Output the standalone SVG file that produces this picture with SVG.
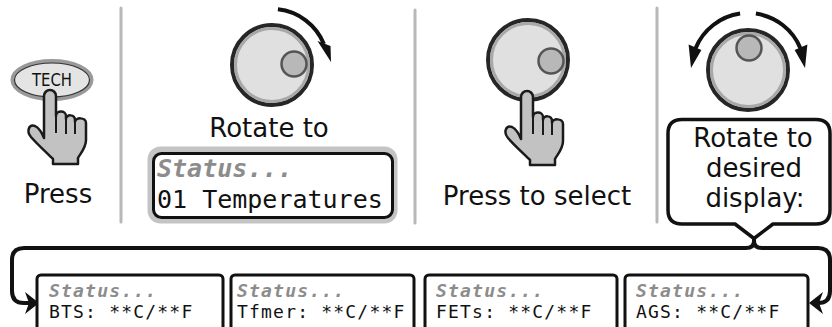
<svg xmlns="http://www.w3.org/2000/svg" xmlns:xlink="http://www.w3.org/1999/xlink" width="832" height="327" viewBox="0 0 832 327">
<style>
.lbl{font-family:"DejaVu Sans","Liberation Sans",sans-serif;font-size:26px;fill:#111;text-anchor:middle}
.mono{font-family:"DejaVu Sans Mono","Liberation Mono",monospace;fill:#111}
.sm{font-size:18px;letter-spacing:1.2px}
.st{font-weight:bold;font-style:italic;fill:#8c8c8c}
.sep{stroke:#b8b8b8;stroke-width:3;stroke-linecap:round;fill:none}
.knob{fill:#e0e0e0;stroke:#262626;stroke-width:4}
.ring{fill:none;stroke:#a8a8a8;stroke-width:3}
.dot{fill:#b8b8b8;stroke:#555;stroke-width:2.5}
.hand{fill:#c2c2c2;stroke:#1a1a1a;stroke-width:2.5;stroke-linejoin:round}
.hl{fill:none;stroke:#1a1a1a;stroke-width:2}
.arc{fill:none;stroke:#111;stroke-width:4}
.box{fill:#fff;stroke:#111;stroke-width:3}
.conn{fill:none;stroke:#111;stroke-width:4;stroke-linejoin:round}
</style>
<defs>
<g id="handShape">
<path class="hand" d="M44,138 L44,96 A6,6 0 0 1 56,96 L56,116 C56,110 66,110 66,116 L66,119 C66,114 75,114 75,120 L75,122 C75,117 86,117 86,123 L86,140 C86,148 80,154 78,158 L78,164 L53,164 L53,159 C47,153 38,145 31,137 C26,131 29,124 35,126 C39,128 42,133 44,138 Z"/>
<path class="hl" d="M56,116 V133 M66,119 V134 M75,122 V134"/>
</g>
</defs>

<g id="separators">
<line class="sep" x1="121" y1="8" x2="121" y2="222"/>
<line class="sep" x1="415" y1="10" x2="415" y2="223"/>
<line class="sep" x1="657" y1="8" x2="657" y2="222"/>
</g>

<g id="step1-press">
<ellipse cx="52" cy="80" rx="39.5" ry="19" fill="#e4e4e4" stroke="#9a9a9a" stroke-width="4"/>
<ellipse cx="52" cy="80" rx="37.5" ry="17" fill="none" stroke="#333" stroke-width="1.2"/>
<text x="52" y="86" font-family="DejaVu Sans,sans-serif" font-size="17" fill="#111" text-anchor="middle" textLength="40" lengthAdjust="spacingAndGlyphs">TECH</text>
<use xlink:href="#handShape"/>
<text class="lbl" x="58" y="203">Press</text>
</g>

<g id="step2-rotate">
<circle class="knob" cx="272" cy="65" r="40"/>
<circle class="ring" cx="272" cy="65" r="36.5"/>
<circle class="dot" cx="294" cy="64" r="12.5"/>
<path class="arc" d="M277.9,9.3 A56,56 0 0 1 323.9,44"/>
<polygon points="331,62 317.5,41 330.5,46" fill="#111"/>
<text class="lbl" x="269" y="137">Rotate to</text>
<rect x="147.5" y="146.5" width="250" height="77" rx="13" fill="#c4c4c4"/>
<rect x="153.5" y="153.5" width="239" height="64" rx="8" class="box" stroke-width="2.5"/>
<text class="mono st" x="157" y="177" font-size="25">Status...</text>
<text class="mono" x="157" y="208" font-size="25">01 Temperatures</text>
</g>

<g id="step3-select">
<circle class="knob" cx="528" cy="60" r="40"/>
<circle class="ring" cx="528" cy="60" r="36.5"/>
<circle class="dot" cx="551" cy="61" r="12.5"/>
<use xlink:href="#handShape" transform="translate(477,1)"/>
<text class="lbl" x="537" y="205">Press to select</text>
</g>

<g id="step4-rotate">
<circle class="knob" cx="748" cy="70" r="40"/>
<circle class="ring" cx="748" cy="70" r="36.5"/>
<circle class="dot" cx="749" cy="48" r="12.5"/>
<path class="arc" d="M740.1,13.6 A57,57 0 0 0 695.6,48.2"/>
<polygon points="691,68 688.6,44.6 701.4,50" fill="#111"/>
<path class="arc" d="M755.9,13.6 A57,57 0 0 1 800.4,48.2"/>
<polygon points="805,68 794.6,50 807.4,44.6" fill="#111"/>
<path d="M682,119.5 H816 Q830,119.5 830,133.5 V210 Q830,224 816,224 H773 L754,238.5 L735,224 H682 Q668,224 668,210 V133.5 Q668,119.5 682,119.5 Z" fill="#fff" stroke="#111" stroke-width="3.5" stroke-linejoin="round"/>
<text class="lbl" x="753" y="147">Rotate to</text>
<text class="lbl" x="754" y="177">desired</text>
<text class="lbl" x="755" y="207">display:</text>
</g>

<g id="connectors">
<path class="conn" d="M754,238 V241 Q754,248 746,248 H24 Q12,248 12,260 V291 Q12,303 24,303 H30"/>
<polygon points="39,303 25,292 29,303 25,314" fill="#111"/>
<path class="conn" d="M754,241 Q754,248 762,248 H818 Q830,248 830,260 V291 Q830,303 818,303 H816"/>
<polygon points="809,303 823,292 819,303 823,314" fill="#111"/>
</g>

<g id="display-bts">
<rect class="box" x="37" y="275" width="186" height="70" rx="4"/>
<text class="mono sm st" x="49" y="297">Status...</text>
<text class="mono sm" x="49" y="318">BTS: **C/**F</text>
</g>
<g id="display-tfmer">
<rect class="box" x="231" y="275" width="183" height="70" rx="4"/>
<text class="mono sm st" x="237" y="297">Status...</text>
<text class="mono sm" x="237" y="318">Tfmer: **C/**F</text>
</g>
<g id="display-fets">
<rect class="box" x="425" y="275" width="192" height="70" rx="4"/>
<text class="mono sm st" x="436" y="297">Status...</text>
<text class="mono sm" x="436" y="318">FETs: **C/**F</text>
</g>
<g id="display-ags">
<rect class="box" x="625" y="275" width="183" height="70" rx="4"/>
<text class="mono sm st" x="636" y="297">Status...</text>
<text class="mono sm" x="636" y="318">AGS: **C/**F</text>
</g>
</svg>
